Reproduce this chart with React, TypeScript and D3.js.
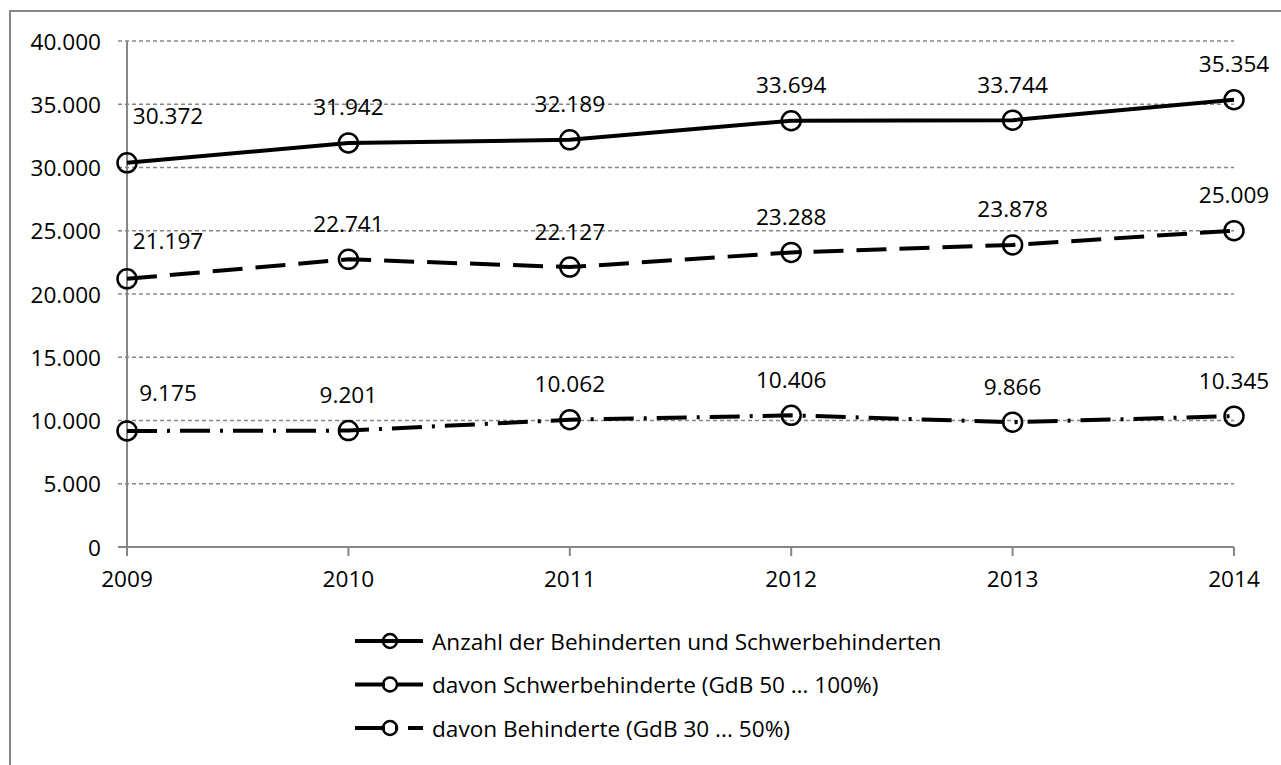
import React from 'react'
import * as d3 from 'd3'

const years = ['2009', '2010', '2011', '2012', '2013', '2014']
const totalValues = [30372, 31942, 32189, 33694, 33744, 35354]
const severeValues = [21197, 22741, 22127, 23288, 23878, 25009]
const disabledValues = [9175, 9201, 10062, 10406, 9866, 10345]
const seriesNames = [
    'Anzahl der Behinderten und Schwerbehinderten',
    'davon Schwerbehinderte (GdB 50 … 100%)',
    'davon Behinderte (GdB 30 ... 50%)'
]
const yTicks = [0, 5000, 10000, 15000, 20000, 25000, 30000, 35000, 40000]

const width = 1281
const height = 765
const margin = { left: 127, right: 47, top: 41, bottom: 218 }
const font = '"Open Sans", sans-serif'
const grey = '#868686'
const fs = 22.6

const dashes = [null, '30,13', '30,10,3,10']
// first label of each series was moved to the right in the original
const firstLabelDy = [-47, -38, -38]

const fmt = (v: number) => d3.format(',')(v).replace(/,/g, '.')

function App() {
    const x = d3.scalePoint().domain(years).range([margin.left, width - margin.right])
    const y = d3.scaleLinear().domain([0, 40000]).range([height - margin.bottom, margin.top])
    const line = d3.line<number>().x((_d, i) => x(years[i])).y(d => y(d))

    const series = [totalValues, severeValues, disabledValues]
    const x0 = margin.left
    const x1 = width - margin.right
    const y0 = y(0)

    return (
        <svg width={width} height={height} style={{ position: 'absolute', left: 0, top: 0, background: '#fff' }}
            fontFamily={font}>
            <rect x={10} y={11} width={width + 20} height={height + 20} fill="#fff" stroke={grey} strokeWidth={2} />

            {yTicks.filter(t => t > 0).map(t => (
                <line key={t} x1={x0 - 9} x2={x1} y1={y(t)} y2={y(t)} stroke={grey} strokeWidth={1.3} strokeDasharray="4,3" />
            ))}
            {/* y axis */}
            <line x1={x0} x2={x0} y1={margin.top} y2={y0 + 9} stroke={grey} strokeWidth={2} />
            <line x1={x0 - 9} x2={x0} y1={y0} y2={y0} stroke={grey} strokeWidth={2} />
            {yTicks.map(t => (
                <text key={t} x={x0 - 26} y={y(t)} textAnchor="end" dominantBaseline="central" fontSize={fs}>{fmt(t)}</text>
            ))}
            {/* x axis */}
            <line x1={x0} x2={x1} y1={y0} y2={y0} stroke={grey} strokeWidth={2} />
            {years.map(yr => (
                <g key={yr}>
                    <line x1={x(yr)} x2={x(yr)} y1={y0} y2={y0 + 9} stroke={grey} strokeWidth={2} />
                    <text x={x(yr)} y={y0 + 31} textAnchor="middle" dominantBaseline="central" fontSize={fs}>{yr}</text>
                </g>
            ))}

            {series.map((vals, si) => (
                <g key={si}>
                    <path d={line(vals)} fill="none" stroke="#000" strokeWidth={4}
                        strokeDasharray={dashes[si] || undefined} />
                    {vals.map((v, i) => (
                        <circle key={i} cx={x(years[i])} cy={y(v)} r={9.5} fill="none" stroke="#000" strokeWidth={2.5} />
                    ))}
                    {vals.map((v, i) => (
                        <text key={'t' + i} x={x(years[i]) + (i === 0 ? 41 : 0)} y={y(v) + (i === 0 ? firstLabelDy[si] : -36)}
                            textAnchor="middle" dominantBaseline="central" fontSize={fs}>{fmt(v)}</text>
                    ))}
                </g>
            ))}

            {seriesNames.map((name, si) => {
                const ly = 641 + si * 43.5
                return (
                    <g key={name}>
                        <line x1={355} x2={423} y1={ly} y2={ly} stroke="#000" strokeWidth={4}
                            strokeDasharray={dashes[si] || undefined} />
                        <circle cx={390} cy={ly} r={7} fill="none" stroke="#000" strokeWidth={2.5} />
                        <text x={432} y={ly} dominantBaseline="central" fontSize={fs}>{name}</text>
                    </g>
                )
            })}
        </svg>
    )
}

export default App
